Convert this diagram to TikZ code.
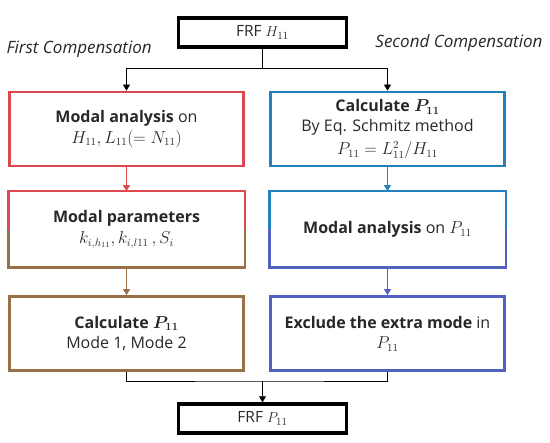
\documentclass[tikz,border=0pt]{standalone}
\usepackage{amsmath,amssymb}
\usepackage{fontspec}
\setmainfont{Open Sans}
\usetikzlibrary{arrows.meta,calc,positioning}
\definecolor{compred}{RGB}{221,72,78}
\definecolor{compbrown}{RGB}{152,112,72}
\definecolor{compblue}{RGB}{36,128,192}
\definecolor{compviolet}{RGB}{82,96,192}
\definecolor{textgray}{RGB}{40,40,40}

\begin{document}
\begin{tikzpicture}[
  x=1pt,y=-1pt,
  >={Triangle[length=6pt,width=7pt]},
  stage/.style={draw,line width=2.8pt,minimum width=234pt,minimum height=74pt,align=center,inner sep=2pt},
  frf/.style={draw=black,line width=3.4pt,minimum width=168pt,minimum height=29pt,inner sep=2pt,font=\fontsize{15.5}{18}\selectfont},
  flow/.style={->,line width=0.8pt},
  caption/.style={font=\fontsize{17}{20}\selectfont\itshape,text=textgray},
  every node/.style={font=\fontsize{16}{20.5}\selectfont,text=textgray}
]
\useasboundingbox (0,0) rectangle (550,443);

\node[frf] (top) at (262.5,32.5) {FRF $H_{11}$};
\node[caption,anchor=west] (first) at (3,49) {First Compensation};
\node[caption,anchor=east] (second) at (546,43) {Second Compensation};

% first compensation
\node[stage,draw=compred] (l1) at (126.5,129)
  {\textbf{Modal analysis} on\\$H_{11},L_{11}(=N_{11})$};
\node[stage,draw=none] (l2) at (126.5,229.5)
  {\textbf{Modal parameters}\\$k_{i,h_{11}},k_{i,l11}\,,S_i$};
\draw[line width=2.8pt,compred] (l2.west) |- (l2.north) -| (l2.east);
\draw[line width=2.8pt,compbrown] (l2.west) |- (l2.south) -| (l2.east);
\node[stage,draw=compbrown] (l3) at (126.5,333.5)
  {\textbf{Calculate $\boldsymbol{P_{11}}$}\\Mode 1, Mode 2};

% second compensation
\node[stage,draw=compblue] (r1) at (387.5,129)
  {\textbf{Calculate $\boldsymbol{P_{11}}$}\\By Eq. Schmitz method\\[2pt]$P_{11}=L_{11}^2/H_{11}$};
\node[stage,draw=none] (r2) at (387.5,229.5)
  {\textbf{Modal analysis} on $P_{11}$};
\draw[line width=2.8pt,compblue] (r2.west) |- (r2.north) -| (r2.east);
\draw[line width=2.8pt,compviolet] (r2.west) |- (r2.south) -| (r2.east);
\node[stage,draw=compviolet] (r3) at (387.5,333.5)
  {\textbf{Exclude the extra mode} in\\$P_{11}$};

\node[frf] (bottom) at (262.5,418.5) {FRF $P_{11}$};

% connectors
\coordinate (split) at (262.5,68);
\coordinate (join) at (262.5,381);
\draw[line width=0.8pt] (top.south) -- (split);
\draw[flow] (split) -| (l1.north);
\draw[flow] (split) -| (r1.north);
\draw[flow,compred] (l1.south) -- (l2.north);
\draw[flow,compbrown] (l2.south) -- (l3.north);
\draw[flow,compblue] (r1.south) -- (r2.north);
\draw[flow,compviolet] (r2.south) -- (r3.north);
\draw[line width=0.8pt] (l3.south) |- (join) -| (r3.south);
\draw[flow] (join) -- (bottom.north);
\end{tikzpicture}
\end{document}
